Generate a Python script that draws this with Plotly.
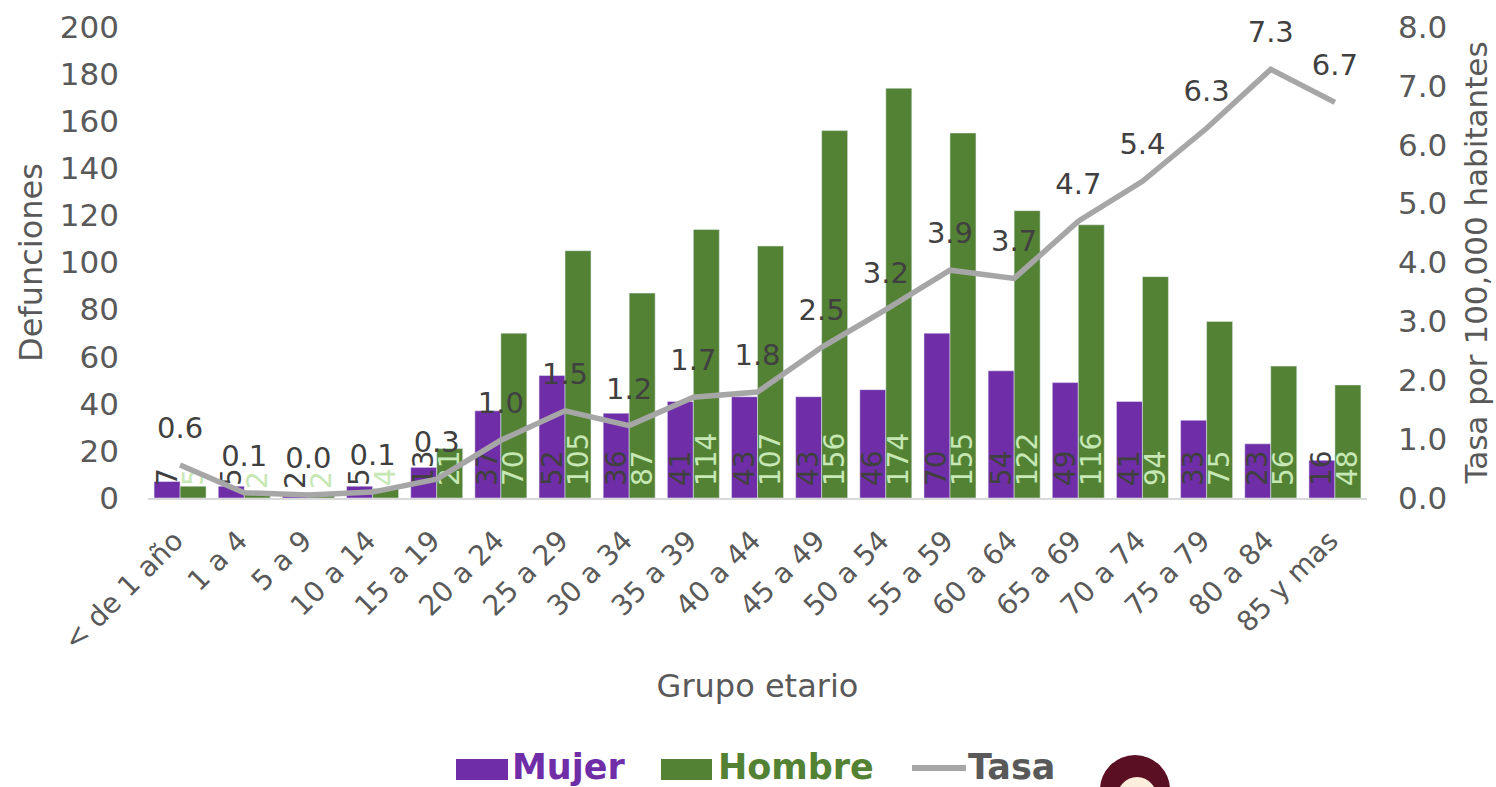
import plotly.graph_objects as go

categorias = ["< de 1 año", "1 a 4", "5 a 9", "10 a 14", "15 a 19", "20 a 24", "25 a 29", "30 a 34", "35 a 39", "40 a 44",
              "45 a 49", "50 a 54", "55 a 59", "60 a 64", "65 a 69", "70 a 74", "75 a 79", "80 a 84", "85 y mas"]
mujer = [7, 5, 2, 5, 13, 37, 52, 36, 41, 43, 43, 46, 70, 54, 49, 41, 33, 23, 16]
hombre = [5, 2, 2, 4, 21, 70, 105, 87, 114, 107, 156, 174, 155, 122, 116, 94, 75, 56, 48]
tasa = [0.56, 0.09, 0.05, 0.1, 0.32, 0.98, 1.48, 1.23, 1.71, 1.8, 2.56, 3.2, 3.87, 3.73, 4.7, 5.38, 6.28, 7.28, 6.72]
tasa_etq = ["0.6", "0.1", "0.0", "0.1", "0.3", "1.0", "1.5", "1.2", "1.7", "1.8", "2.5", "3.2", "3.9", "3.7", "4.7", "5.4", "6.3", "7.3", "6.7"]

FUENTE = "DejaVu Sans"
GRIS = "#595959"
MORADO = "#6f2da8"
VERDE = "#548235"
L, R, T, B = 148, 1367, 27, 498
# Leading no-break space lifts the rotated labels off the bar base, as in the reference.
PLANTILLA = "\u00a0%{text}"


def px_x(v):
    return (v - L) / (R - L)


def px_y(v):
    return (B - v) / (B - T)


fig = go.Figure()
fig.add_bar(x=categorias, y=mujer, name="Mujer", marker_color=MORADO, text=mujer, texttemplate=PLANTILLA,
            textposition="inside", textangle=-90, insidetextanchor="start", constraintext="none", cliponaxis=False,
            textfont=dict(color="#404040", size=28, family=FUENTE))
fig.add_bar(x=categorias, y=hombre, name="Hombre", marker_color=VERDE, text=hombre, texttemplate=PLANTILLA,
            textposition="inside", textangle=-90, insidetextanchor="start", constraintext="none", cliponaxis=False,
            textfont=dict(color="#c6e8b4", size=28, family=FUENTE))
fig.add_scatter(x=categorias, y=tasa, yaxis="y2", name="Tasa",
                mode="lines+text+markers", line=dict(color="#a6a6a6", width=5.5),
                marker=dict(size=30, color="rgba(0,0,0,0)"),
                text=tasa_etq, textposition="top center", cliponaxis=False,
                textfont=dict(color="#404040", size=29, family=FUENTE))

tick = dict(family=FUENTE, size=31, color=GRIS)
tick_x = dict(family=FUENTE, size=28, color=GRIS)
titulo = dict(family=FUENTE, size=32, color=GRIS)
titulo_der = dict(family=FUENTE, size=31, color=GRIS)
leyenda = [("Mujer", MORADO, 510), ("Hombre", VERDE, 716), ("Tasa", GRIS, 966)]
anotaciones = [dict(text=f"<b>{t}</b>", x=px_x(x0), y=px_y(767), xref="paper", yref="paper", xanchor="left",
                    yanchor="middle", showarrow=False,
                    font=dict(family=FUENTE, size=35, color=c)) for t, c, x0 in leyenda]
formas = [
    dict(type="rect", xref="paper", yref="paper", x0=px_x(456), x1=px_x(508), y0=px_y(759), y1=px_y(780),
         fillcolor=MORADO, line_width=0),
    dict(type="rect", xref="paper", yref="paper", x0=px_x(661), x1=px_x(712), y0=px_y(759), y1=px_y(780),
         fillcolor=VERDE, line_width=0),
    dict(type="line", xref="paper", yref="paper", x0=px_x(912), x1=px_x(966), y0=px_y(768), y1=px_y(768),
         line=dict(color="#a6a6a6", width=6)),
    dict(type="circle", xref="paper", yref="paper", x0=px_x(1100), x1=px_x(1170), y0=px_y(755), y1=px_y(825),
         fillcolor="#5a0f22", line_width=0),
    dict(type="circle", xref="paper", yref="paper", x0=px_x(1116), x1=px_x(1158), y0=px_y(777), y1=px_y(825),
         fillcolor="#fbeedd", line_width=0),
]

fig.update_layout(
    width=1496, height=787, autosize=False,
    margin=dict(l=L, r=1496 - R, t=T, b=787 - B, autoexpand=False),
    paper_bgcolor="white", plot_bgcolor="white",
    barmode="group", bargap=0.19, bargroupgap=0,
    font=dict(family=FUENTE, color=GRIS),
    showlegend=False,
    annotations=anotaciones,
    shapes=formas,
    xaxis=dict(range=[-0.5, 18.5], tickangle=-45, tickfont=tick_x, showgrid=False, showline=True, linecolor="#d9d9d9",
               linewidth=2, ticks="", automargin=False, ticklabelstandoff=13, ticklabelshift=-5,
               title=dict(text="Grupo etario", font=titulo, standoff=19)),
    yaxis=dict(range=[0, 200], dtick=20, tickfont=tick, showgrid=False, zeroline=False, showline=False,
               ticks="", ticklabelstandoff=28, automargin=False,
               title=dict(text="Defunciones", font=titulo, standoff=7)),
    yaxis2=dict(range=[0, 8], dtick=1, tickformat=".1f", overlaying="y", side="right", tickfont=tick,
                showgrid=False, zeroline=False, showline=False, ticks="", ticklabelstandoff=30, automargin=False,
                title=dict(text="Tasa por 100,000 habitantes", font=titulo_der, standoff=18)),
)
fig.write_html("out.html", post_script="document.body.style.margin='0';", config=dict(displayModeBar=False))
